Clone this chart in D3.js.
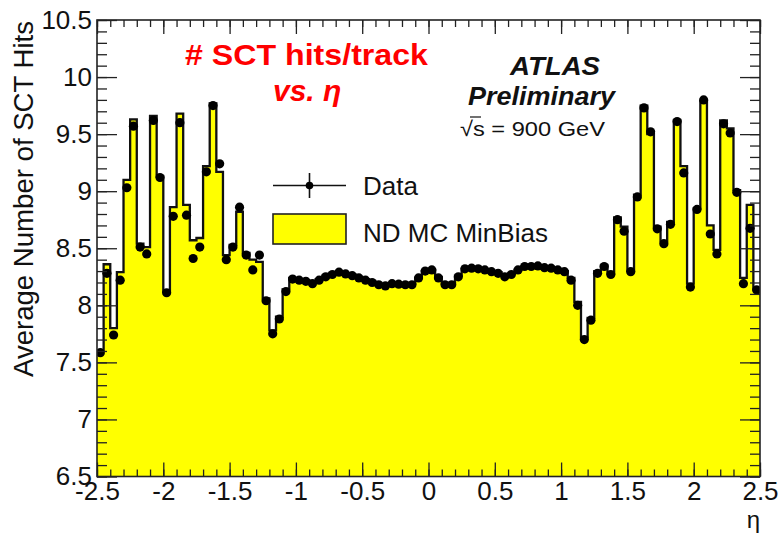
<!DOCTYPE html>
<html>
<head>
<meta charset="utf-8">
<script src="https://cdn.jsdelivr.net/npm/d3@7"></script>
<style>
  html, body { margin: 0; padding: 0; background: #fff; }
  svg { display: block; }
  text { font-family: "Liberation Sans", Arial, Helvetica, sans-serif; fill: #111; }
</style>
</head>
<body>
<svg id="chart" width="781" height="535"></svg>
<script>
// Histogram binning in eta
const etaLow = -2.5;
const etaHigh = 2.5;
const binWidth = 0.05;

// Average number of SCT hits per track, data (one value per eta bin)
const dataHits = [
  7.585, 8.28, 7.74, 8.22, 9.03, 9.57, 8.51, 8.45, 9.62, 9.12,
  8.11, 8.78, 9.60, 8.79, 8.41, 8.51, 9.17, 9.75, 9.24, 8.40,
  8.51, 8.86, 8.44, 8.31, 8.44, 8.04, 7.75, 7.88, 8.12, 8.23,
  8.22, 8.21, 8.19, 8.22, 8.25, 8.27, 8.29, 8.275, 8.26, 8.24,
  8.22, 8.20, 8.18, 8.17, 8.19, 8.185, 8.18, 8.18, 8.24, 8.30,
  8.31, 8.24, 8.18, 8.18, 8.25, 8.32, 8.325, 8.32, 8.31, 8.295,
  8.28, 8.25, 8.27, 8.31, 8.34, 8.34, 8.345, 8.33, 8.325, 8.31,
  8.295, 8.22, 8.00, 7.70, 7.87, 8.28, 8.34, 8.27, 8.75, 8.65,
  8.295, 8.95, 9.73, 9.52, 8.67, 8.54, 8.71, 9.61, 9.16, 8.16,
  8.84, 9.80, 8.625, 8.45, 9.59, 9.51, 8.99, 8.19, 8.675, 8.135
];

// Non-diffractive MC minimum bias prediction (same binning)
const mcHits = [
  7.60, 8.36, 7.80, 8.29, 9.10, 9.63, 8.54, 8.51, 9.66, 9.13,
  8.12, 8.86, 9.68, 8.88, 8.57, 8.59, 9.22, 9.77, 9.17, 8.44,
  8.53, 8.82, 8.46, 8.40, 8.38, 8.06, 7.78, 7.90, 8.14, 8.24,
  8.23, 8.22, 8.20, 8.23, 8.26, 8.28, 8.29, 8.28, 8.27, 8.25,
  8.23, 8.21, 8.19, 8.18, 8.19, 8.19, 8.19, 8.19, 8.24, 8.30,
  8.31, 8.25, 8.19, 8.19, 8.26, 8.32, 8.33, 8.32, 8.31, 8.30,
  8.29, 8.26, 8.28, 8.31, 8.34, 8.35, 8.35, 8.34, 8.33, 8.32,
  8.30, 8.24, 8.03, 7.72, 7.89, 8.30, 8.35, 8.28, 8.77, 8.69,
  8.30, 8.97, 9.75, 9.50, 8.69, 8.56, 8.73, 9.62, 9.22, 8.19,
  8.85, 9.79, 8.70, 8.485, 9.62, 9.55, 9.01, 8.24, 8.88, 8.14
];

// Axis ticks
const xTickValues = [-2.5, -2, -1.5, -1, -0.5, 0, 0.5, 1, 1.5, 2, 2.5];
const xTickLabels = ["-2.5", "-2", "-1.5", "-1", "-0.5", "0", "0.5", "1", "1.5", "2", "2.5"];
const yTickValues = [6.5, 7, 7.5, 8, 8.5, 9, 9.5, 10, 10.5];
const yTickLabels = ["6.5", "7", "7.5", "8", "8.5", "9", "9.5", "10", "10.5"];
const yLow = 6.5, yHigh = 10.5;

const svg = d3.select("#chart");
const frame = { left: 97, right: 760, top: 20, bottom: 476.5 };

const x = d3.scaleLinear().domain([etaLow, etaHigh]).range([frame.left, frame.right]);
const y = d3.scaleLinear().domain([yLow, yHigh]).range([frame.bottom, frame.top]);

const bins = mcHits.map((v, i) => ({
  lo: etaLow + i * binWidth,
  hi: etaLow + (i + 1) * binWidth,
  mc: v,
  data: dataHits[i]
}));

// MC histogram: filled step area plus outline
const stepPts = bins.map(b => [b.lo, b.mc]);
stepPts.push([etaHigh, bins[bins.length - 1].mc]);

svg.append("clipPath").attr("id", "plotclip")
  .append("rect")
  .attr("x", frame.left).attr("y", frame.top)
  .attr("width", frame.right - frame.left).attr("height", frame.bottom - frame.top);

const plot = svg.append("g").attr("clip-path", "url(#plotclip)");

plot.append("path")
  .datum(stepPts)
  .attr("d", d3.area().curve(d3.curveStepAfter)
    .x(d => x(d[0])).y0(y(yLow)).y1(d => y(d[1])))
  .attr("fill", "#ffff00");

plot.append("path")
  .datum(stepPts)
  .attr("d", d3.line().curve(d3.curveStepAfter)
    .x(d => x(d[0])).y(d => y(d[1])))
  .attr("fill", "none")
  .attr("stroke", "#111")
  .attr("stroke-width", 2.3);

// Data points with horizontal bin-width bars
plot.append("g").selectAll("line")
  .data(bins).join("line")
  .attr("x1", d => x(d.lo)).attr("x2", d => x(d.hi))
  .attr("y1", d => y(d.data)).attr("y2", d => y(d.data))
  .attr("stroke", "#000").attr("stroke-width", 1.5);

plot.append("g").selectAll("circle")
  .data(bins).join("circle")
  .attr("cx", d => x((d.lo + d.hi) / 2))
  .attr("cy", d => y(d.data))
  .attr("r", 4.6)
  .attr("fill", "#000");

// Axes: major and minor ticks on all four sides of the frame
const xMinor = d3.range(Math.round((etaHigh - etaLow) / 0.1) + 1).map(i => etaLow + i * 0.1);
const yMinor = d3.range(Math.round((yHigh - yLow) / 0.1) + 1).map(i => yLow + i * 0.1);

function styleAxis(g) {
  g.select(".domain").remove();
  g.selectAll(".tick line").attr("stroke", "#222").attr("stroke-width", 1.3);
}

svg.append("g").attr("transform", `translate(0,${frame.bottom})`)
  .call(d3.axisBottom(x).tickValues(xMinor).tickSize(-7).tickFormat(""))
  .call(styleAxis);
svg.append("g").attr("transform", `translate(0,${frame.bottom})`)
  .call(d3.axisBottom(x).tickValues(xTickValues).tickSize(-14).tickPadding(5)
    .tickFormat((d, i) => xTickLabels[i]))
  .call(styleAxis)
  .call(g => g.selectAll("text").attr("font-size", 26).attr("fill", "#111")
    .attr("font-family", "Liberation Sans, Arial, sans-serif"));

svg.append("g").attr("transform", `translate(0,${frame.top})`)
  .call(d3.axisTop(x).tickValues(xMinor).tickSize(-7).tickFormat(""))
  .call(styleAxis);
svg.append("g").attr("transform", `translate(0,${frame.top})`)
  .call(d3.axisTop(x).tickValues(xTickValues).tickSize(-14).tickFormat(""))
  .call(styleAxis);

svg.append("g").attr("transform", `translate(${frame.left},0)`)
  .call(d3.axisLeft(y).tickValues(yMinor).tickSize(-10).tickFormat(""))
  .call(styleAxis);
svg.append("g").attr("transform", `translate(${frame.left},0)`)
  .call(d3.axisLeft(y).tickValues(yTickValues).tickSize(-20)
    .tickFormat((d, i) => yTickLabels[i]))
  .call(styleAxis)
  .call(g => g.selectAll("text").attr("font-size", 26).attr("fill", "#111")
    .attr("x", -5)
    .attr("font-family", "Liberation Sans, Arial, sans-serif"));

svg.append("g").attr("transform", `translate(${frame.right},0)`)
  .call(d3.axisRight(y).tickValues(yMinor).tickSize(-10).tickFormat(""))
  .call(styleAxis);
svg.append("g").attr("transform", `translate(${frame.right},0)`)
  .call(d3.axisRight(y).tickValues(yTickValues).tickSize(-20).tickFormat(""))
  .call(styleAxis);

// Frame
svg.append("rect")
  .attr("x", frame.left).attr("y", frame.top)
  .attr("width", frame.right - frame.left).attr("height", frame.bottom - frame.top)
  .attr("fill", "none").attr("stroke", "#222").attr("stroke-width", 1.6);

// Axis titles
svg.append("text")
  .attr("transform", `translate(33,21) rotate(-90)`)
  .attr("text-anchor", "end")
  .attr("font-size", 27)
  .attr("textLength", 356).attr("lengthAdjust", "spacingAndGlyphs")
  .text("Average Number of SCT Hits");

svg.append("text")
  .attr("x", frame.right).attr("y", 528)
  .attr("text-anchor", "end")
  .attr("font-size", 24)
  .text("η");

// Title
svg.append("text")
  .attr("x", 185).attr("y", 65)
  .attr("font-size", 30).attr("font-weight", "bold")
  .attr("textLength", 243).attr("lengthAdjust", "spacingAndGlyphs")
  .style("fill", "#ff0000")
  .text("# SCT hits/track");

svg.append("text")
  .attr("x", 273).attr("y", 101)
  .attr("font-size", 30).attr("font-weight", "bold").attr("font-style", "italic")
  .style("fill", "#ff0000")
  .text("vs. η");

// Experiment label
svg.append("text")
  .attr("x", 510).attr("y", 75)
  .attr("font-size", 26).attr("font-weight", "bold").attr("font-style", "italic")
  .attr("textLength", 90).attr("lengthAdjust", "spacingAndGlyphs")
  .text("ATLAS");

svg.append("text")
  .attr("x", 468).attr("y", 105)
  .attr("font-size", 26).attr("font-weight", "bold").attr("font-style", "italic")
  .attr("textLength", 147).attr("lengthAdjust", "spacingAndGlyphs")
  .text("Preliminary");

svg.append("text")
  .attr("x", 460).attr("y", 136)
  .attr("font-size", 21)
  .attr("textLength", 145).attr("lengthAdjust", "spacingAndGlyphs")
  .text("√s = 900 GeV");
svg.append("line")
  .attr("x1", 470).attr("x2", 481).attr("y1", 117).attr("y2", 117)
  .attr("stroke", "#111").attr("stroke-width", 1.2);

// Legend
const legend = svg.append("g");
legend.append("line")
  .attr("x1", 273).attr("x2", 346).attr("y1", 185.5).attr("y2", 185.5)
  .attr("stroke", "#111").attr("stroke-width", 1.6);
legend.append("line")
  .attr("x1", 309.5).attr("x2", 309.5).attr("y1", 173).attr("y2", 198)
  .attr("stroke", "#111").attr("stroke-width", 1.6);
legend.append("circle")
  .attr("cx", 309.5).attr("cy", 185.5).attr("r", 3.8).attr("fill", "#000");
legend.append("text")
  .attr("x", 363).attr("y", 195)
  .attr("font-size", 26)
  .text("Data");

legend.append("rect")
  .attr("x", 273).attr("y", 214).attr("width", 73).attr("height", 30)
  .attr("fill", "#ffff00").attr("stroke", "#222").attr("stroke-width", 1.6);
legend.append("text")
  .attr("x", 363).attr("y", 242)
  .attr("font-size", 26)
  .text("ND MC MinBias");
</script>
</body>
</html>
